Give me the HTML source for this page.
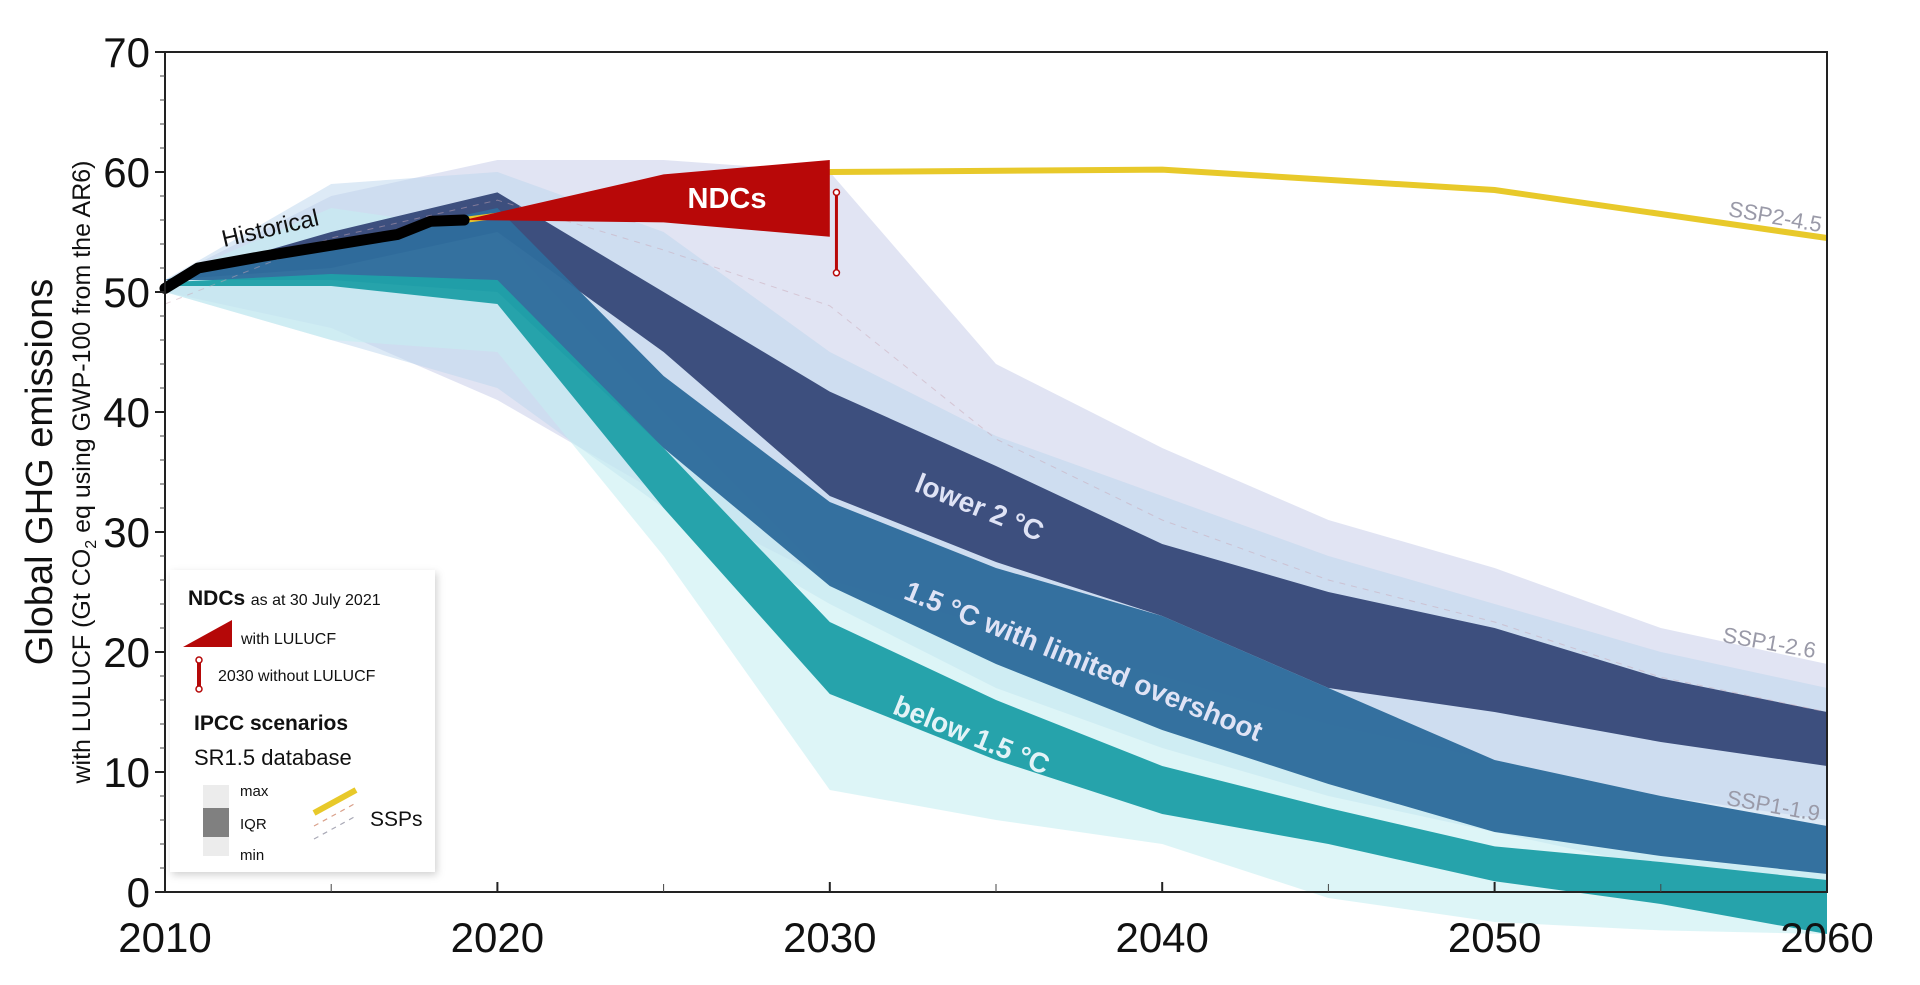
<!DOCTYPE html>
<html><head><meta charset="utf-8">
<style>
html,body{margin:0;padding:0;background:#fff;}
svg{display:block;font-family:"Liberation Sans",Arial,sans-serif;}
</style></head>
<body>
<svg id="chart" width="1920" height="985" viewBox="0 0 1920 985">
  <g id="bands"></g>
  <g id="axes"></g>
  <g id="labels"></g>
  <g id="legend">
    <rect x="170" y="570" width="265" height="302" fill="#fff" style="filter:drop-shadow(2px 3px 4px rgba(0,0,0,0.18))"/>
    <text x="188" y="605" font-size="20" fill="#111"><tspan font-weight="bold" font-size="21">NDCs</tspan> <tspan font-size="16">as at 30 July 2021</tspan></text>
    <polygon points="183,647 232,620 232,647" fill="#b50808"/>
    <text x="241" y="644" font-size="16" fill="#111">with LULUCF</text>
    <line x1="199" y1="660" x2="199" y2="689" stroke="#b50808" stroke-width="4"/>
    <circle cx="199" cy="660" r="3" fill="#fff" stroke="#b50808" stroke-width="1.5"/>
    <circle cx="199" cy="689" r="3" fill="#fff" stroke="#b50808" stroke-width="1.5"/>
    <text x="218" y="681" font-size="16" fill="#111">2030 without LULUCF</text>
    <text x="194" y="730" font-size="21" font-weight="bold" fill="#111">IPCC scenarios</text>
    <text x="194" y="765" font-size="22" fill="#111">SR1.5 database</text>
    <rect x="203" y="785" width="26" height="23" fill="#ececec"/>
    <rect x="203" y="808" width="26" height="29" fill="#808080"/>
    <rect x="203" y="837" width="26" height="19" fill="#ececec"/>
    <text x="240" y="796" font-size="15" fill="#111">max</text>
    <text x="240" y="829" font-size="15" fill="#111">IQR</text>
    <text x="240" y="860" font-size="15" fill="#111">min</text>
    <line x1="314" y1="813" x2="356" y2="790" stroke="#e8c92a" stroke-width="6"/>
    <line x1="314" y1="826" x2="356" y2="803" stroke="#d9a08a" stroke-width="1.2" stroke-dasharray="5,5"/>
    <line x1="314" y1="839" x2="356" y2="816" stroke="#a9a9b6" stroke-width="1.2" stroke-dasharray="5,5"/>
    <text x="370" y="826" font-size="21" fill="#111">SSPs</text>
  </g>
</svg>
<script>
// ---- data ----
const years = [2010, 2015, 2020, 2025, 2030, 2035, 2040, 2045, 2050, 2055, 2060];
const env2Max = [51, 58, 61, 61, 60, 44, 37, 31, 27, 22, 19];
const env2Min = [50, 47, 41, 33, 26, 22, 18, 14, 11, 8, 6];
const env15Max = [51, 59, 60, 55, 45, 38, 33, 28, 24, 20, 17];
const env15Min = [50, 46, 42, 32, 24, 17, 12, 8, 5, 2, 0];
const envB15Max = [51, 57, 55, 40, 26, 20, 15, 11, 8, 6, 5];
const envB15Min = [50, 46, 45, 28, 8.5, 6, 4, -0.5, -2.5, -3.2, -3.5];
const l2Top = [51, 55, 58.3, 50, 41.7, 35.5, 29, 25, 22, 17.8, 15];
const l2Bot = [51, 52, 55, 45, 33, 27.5, 23, 17, 15, 12.5, 10.5];
const lo15Top = [51, 54, 57, 43, 32.5, 27, 23, 17, 11, 8, 5.5];
const lo15Bot = [51, 51, 50, 37, 25.5, 19, 13.5, 9, 5, 3, 1.5];
const b15Top = [50.8, 51.5, 51, 37, 22.5, 16, 10.5, 7, 3.8, 2.5, 1];
const b15Bot = [50.5, 50.5, 49, 32, 16.5, 11, 6.5, 4, 0.9, -1, -3.5];
const histYears = [2010, 2011, 2013, 2015, 2017, 2018, 2019];
const histVals = [50.3, 52, 53, 53.9, 54.8, 55.9, 56];
const sspYears = [2030, 2040, 2050, 2060];
const ssp245 = [60, 60.2, 58.5, 54.5];
const ndcYears = [2019, 2025, 2030];
const ndcUpper = [56, 59.8, 61];
const ndcLower = [56, 55.8, 54.6];
const ndcBar = [58.3, 51.6];
const yTicks = [0, 10, 20, 30, 40, 50, 60, 70];
const xTicks = [2010, 2020, 2030, 2040, 2050, 2060];

// ---- scales ----
const X = y => 165 + (y - 2010) * (1827 - 165) / 50;
const Y = v => 892 - v * 12;
const NS = "http://www.w3.org/2000/svg";
const NARROW = '"Liberation Sans Narrow","Liberation Sans",sans-serif';
function mk(tag, attrs, parent) {
  const e = document.createElementNS(NS, tag);
  for (const k in attrs) e.setAttribute(k, attrs[k]);
  parent.appendChild(e);
  return e;
}
function bandPts(top, bot) {
  const a = years.map((yr, i) => X(yr) + "," + Y(top[i]));
  const b = years.map((yr, i) => X(yr) + "," + Y(bot[i])).reverse();
  return a.concat(b).join(" ");
}
const bands = document.getElementById("bands");
const bandDefs = [
  [env2Max, env2Min, "#c9cdea", 0.55, "band-lower2-envelope"],
  [env15Max, env15Min, "#bcd6ee", 0.5, "band-15-overshoot-envelope"],
  [envB15Max, envB15Min, "#c7eef2", 0.6, "band-below15-envelope"],
  [l2Top, l2Bot, "#3d4f7e", 1, "band-lower2-iqr"],
  [lo15Top, lo15Bot, "#2e6c9c", 0.97, "band-15-overshoot-iqr"],
  [b15Top, b15Bot, "#20a0a8", 0.97, "band-below15-iqr"]
];
bandDefs.forEach(d => {
  const p = mk("polygon", {points: bandPts(d[0], d[1]), fill: d[2], "fill-opacity": d[3]}, bands);
  
  
});
const med = mk("polyline", {points: years.map((yr, i) => X(yr) + "," + Y((env2Max[i] + l2Top[i]) / 2 - 2)).join(" "), fill: "none", stroke: "#c9a7b6", "stroke-width": 1, "stroke-dasharray": "6,6", opacity: 0.5}, bands);



const ssp = mk("polyline", {points: [X(2019) + "," + Y(56)].concat(sspYears.map((yr, i) => X(yr) + "," + Y(ssp245[i]))).join(" "), fill: "none", stroke: "#e8c92a", "stroke-width": 6}, bands);



const wp = ndcYears.map((yr, i) => X(yr) + "," + Y(ndcUpper[i])).concat(ndcYears.map((yr, i) => X(yr) + "," + Y(ndcLower[i])).reverse()).join(" ");
const wedge = mk("polygon", {points: wp, fill: "#b80808"}, bands);


const bx = X(2030.2);
const bar = mk("line", {x1: bx, y1: Y(ndcBar[0]), x2: bx, y2: Y(ndcBar[1]), stroke: "#b80808", "stroke-width": 3}, bands);


ndcBar.forEach(v => mk("circle", {cx: bx, cy: Y(v), r: 3, fill: "#fff", stroke: "#b80808", "stroke-width": 1.5}, bands));

const hist = mk("polyline", {points: histYears.map((yr, i) => X(yr) + "," + Y(histVals[i])).join(" "), fill: "none", stroke: "#000", "stroke-width": 11, "stroke-linecap": "round", "stroke-linejoin": "round"}, bands);



// axes
const ax = document.getElementById("axes");
mk("rect", {x: 165, y: 52, width: 1662, height: 840, fill: "none", stroke: "#222", "stroke-width": 2}, ax);
yTicks.forEach(v => {
  mk("line", {x1: 155, y1: Y(v), x2: 165, y2: Y(v), stroke: "#222", "stroke-width": 2}, ax);
  const t = mk("text", {x: 150, y: Y(v) + 15, "font-size": 42, "text-anchor": "end", fill: "#111", "font-family": NARROW}, ax);
  t.textContent = v;
  
  
});
for (let v = 2; v < 70; v += 2) if (v % 10) mk("line", {x1: 160, y1: Y(v), x2: 165, y2: Y(v), stroke: "#444", "stroke-width": 1}, ax);
xTicks.forEach(yr => {
  mk("line", {x1: X(yr), y1: 892, x2: X(yr), y2: 882, stroke: "#222", "stroke-width": 2}, ax);
  const t = mk("text", {x: X(yr), y: 952, "font-size": 42, "text-anchor": "middle", fill: "#111", "font-family": NARROW}, ax);
  t.textContent = yr;
  
  
});
for (let yr = 2015; yr < 2060; yr += 10) mk("line", {x1: X(yr), y1: 892, x2: X(yr), y2: 884, stroke: "#444", "stroke-width": 1}, ax);
const yt = mk("text", {x: 0, y: 0, "font-size": 38, "text-anchor": "middle", fill: "#111", "font-family": NARROW, transform: "translate(52,472) rotate(-90)"}, ax);
yt.textContent = "Global GHG emissions";


const ys = mk("text", {x: 0, y: 0, "font-size": 25, "text-anchor": "middle", fill: "#111", "font-family": NARROW, transform: "translate(90,472) rotate(-90)"}, ax);
ys.innerHTML = 'with LULUCF (Gt CO<tspan font-size="16" dy="6">2</tspan><tspan dy="-6"> eq using GWP-100 from the AR6)</tspan>';



// labels
const lb = document.getElementById("labels");
function lab(txt, x, y, rot, size, fill, weight, name) {
  const t = mk("text", {x: 0, y: 0, "font-size": size, fill: fill, "font-weight": weight, "text-anchor": "middle", transform: `translate(${x},${y}) rotate(${rot})`}, lb);
  t.textContent = txt;
  
  
  return t;
}
lab("Historical", 272, 236, -13, 24, "#111", "normal", "historical-label");
lab("NDCs", 727, 208, 0, 29, "#fff", "bold", "ndcs-label");
lab("lower 2 °C", 976, 516, 22, 28, "#dfe3f5", "bold", "lower-2c-label");
lab("1.5 °C with limited overshoot", 1080, 670, 22, 28, "#dfe3f5", "bold", "overshoot-label");
lab("below 1.5 °C", 968, 744, 22, 28, "#e3f3f7", "bold", "below-15-label");
lab("SSP2-4.5", 1774, 224, 10, 22, "#9a9aa8", "normal", "ssp245-label");
lab("SSP1-2.6", 1768, 650, 10, 22, "#9a9aa8", "normal", "ssp126-label");
lab("SSP1-1.9", 1772, 813, 10, 22, "#9a9aa8", "normal", "ssp119-label");
</script>
</body></html>
